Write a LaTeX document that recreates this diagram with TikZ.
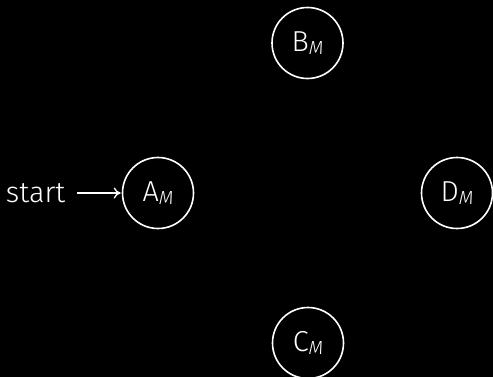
\documentclass[tikz,border=0pt]{standalone}
\usepackage{fontspec}
\setmainfont{Fira Sans Light}[ItalicFont={Fira Sans Light Italic}]
\usetikzlibrary{arrows.meta}
\begin{document}
\begin{tikzpicture}[x=1bp,y=-1bp,
  statenode/.style={draw=white,line width=1.6bp,circle,minimum size=71bp,inner sep=0pt,text=white,
    font=\fontsize{29}{32}\selectfont}]
\fill[black] (0,0) rectangle (493,377);
\useasboundingbox (0,0) rectangle (493,377);
\newcommand\mysub[1]{\raisebox{-2.7bp}{\fontsize{19}{22}\selectfont\itshape #1}}
\node[statenode] (A) at (158,193) {A\mysub{M}};
\node[statenode] (B) at (307.5,43) {B\mysub{M}};
\node[statenode] (D) at (457,193) {D\mysub{M}};
\node[statenode] (C) at (308,343) {C\mysub{M}};
\node[anchor=base east,inner sep=0pt,text=white,font=\fontsize{29}{32}\selectfont] (s) at (65.3,202.7) {start};
\coordinate (s0) at (77,193);
\draw[white,line width=1.3bp,shorten >=1bp,-{To[length=7bp,width=11bp]}] (s0) -- (A);
\end{tikzpicture}
\end{document}
